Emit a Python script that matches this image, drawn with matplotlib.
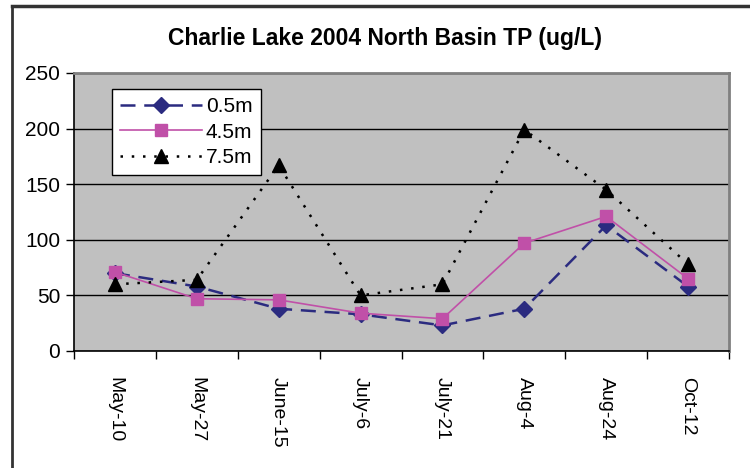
import matplotlib
matplotlib.use("Agg")
import matplotlib.pyplot as plt
from matplotlib.lines import Line2D

plt.rcParams['font.family'] = ['Liberation Sans', 'DejaVu Sans']

dates = ["May-10", "May-27", "June-15", "July-6", "July-21", "Aug-4", "Aug-24", "Oct-12"]
tp_05m = [70, 58, 38, 33, 23, 38, 113, 58]
tp_45m = [71, 47, 46, 34, 29, 97, 121, 65]
tp_75m = [60, 64, 167, 50, 60, 199, 145, 78]

fig = plt.figure(figsize=(7.5, 4.68), dpi=100)
ax = fig.add_axes([74/750, 1 - 351/468, 655/750, 278/468])

# outer chart frame (only top and left visible in the crop)
fig.add_artist(Line2D([12/750, 12/750], [0, 1 - 6/468], transform=fig.transFigure, color='#333333', lw=2))
fig.add_artist(Line2D([12/750, 1], [1 - 6/468, 1 - 6/468], transform=fig.transFigure, color='#333333', lw=2.5))

ax.set_facecolor('#c0c0c0')
x = list(range(len(dates)))

ax.plot(x, tp_05m, color='#2b2b80', lw=1.8, dashes=(6, 3.5), marker='D', ms=8.5,
        mfc='#2b2b80', mec='#2b2b80', label='0.5m', zorder=3)
ax.plot(x, tp_45m, color='#c050a8', lw=1.2, marker='s', ms=9,
        mfc='#c050a8', mec='#c050a8', label='4.5m', zorder=4)
ax.plot(x, tp_75m, color='black', lw=1.8, dashes=(1, 3.5), marker='^', ms=10,
        mfc='black', mec='black', label='7.5m', zorder=5)

ax.set_xlim(-0.5, len(dates) - 0.5)
ax.set_ylim(0, 250)
ax.set_yticks([0, 50, 100, 150, 200, 250])
ax.yaxis.grid(True, color='black', lw=1)
ax.set_axisbelow(True)

ax.set_xticks([i - 0.5 for i in range(len(dates) + 1)])
ax.set_xticklabels([])
ax.set_xticks(x, minor=True)
ax.set_xticklabels(dates, minor=True, rotation=270, fontsize=14)
ax.tick_params(axis='x', which='major', direction='out', length=6, width=1)
ax.tick_params(axis='x', which='minor', length=0, pad=19)
ax.tick_params(axis='y', direction='out', length=6, width=1, labelsize=15, pad=4)

for s in ['top', 'right']:
    ax.spines[s].set_color('#808080')
    ax.spines[s].set_linewidth(2)
for s in ['left', 'bottom']:
    ax.spines[s].set_color('black')
    ax.spines[s].set_linewidth(1.2)

fig.text(385/750, 1 - 38/468, "Charlie Lake 2004 North Basin TP (ug/L)",
         ha='center', va='center', fontsize=16.5, fontweight='bold')

leg = ax.legend(loc='upper left', bbox_to_anchor=((112 - 74)/655, (351 - 89)/278),
                borderaxespad=0, fontsize=15, handlelength=3.9, labelspacing=0.3,
                fancybox=False, frameon=True, edgecolor='black', framealpha=1,
                borderpad=0.4, handletextpad=0.2)
leg.get_frame().set_linewidth(1)

fig.savefig("out.png", dpi=100)
